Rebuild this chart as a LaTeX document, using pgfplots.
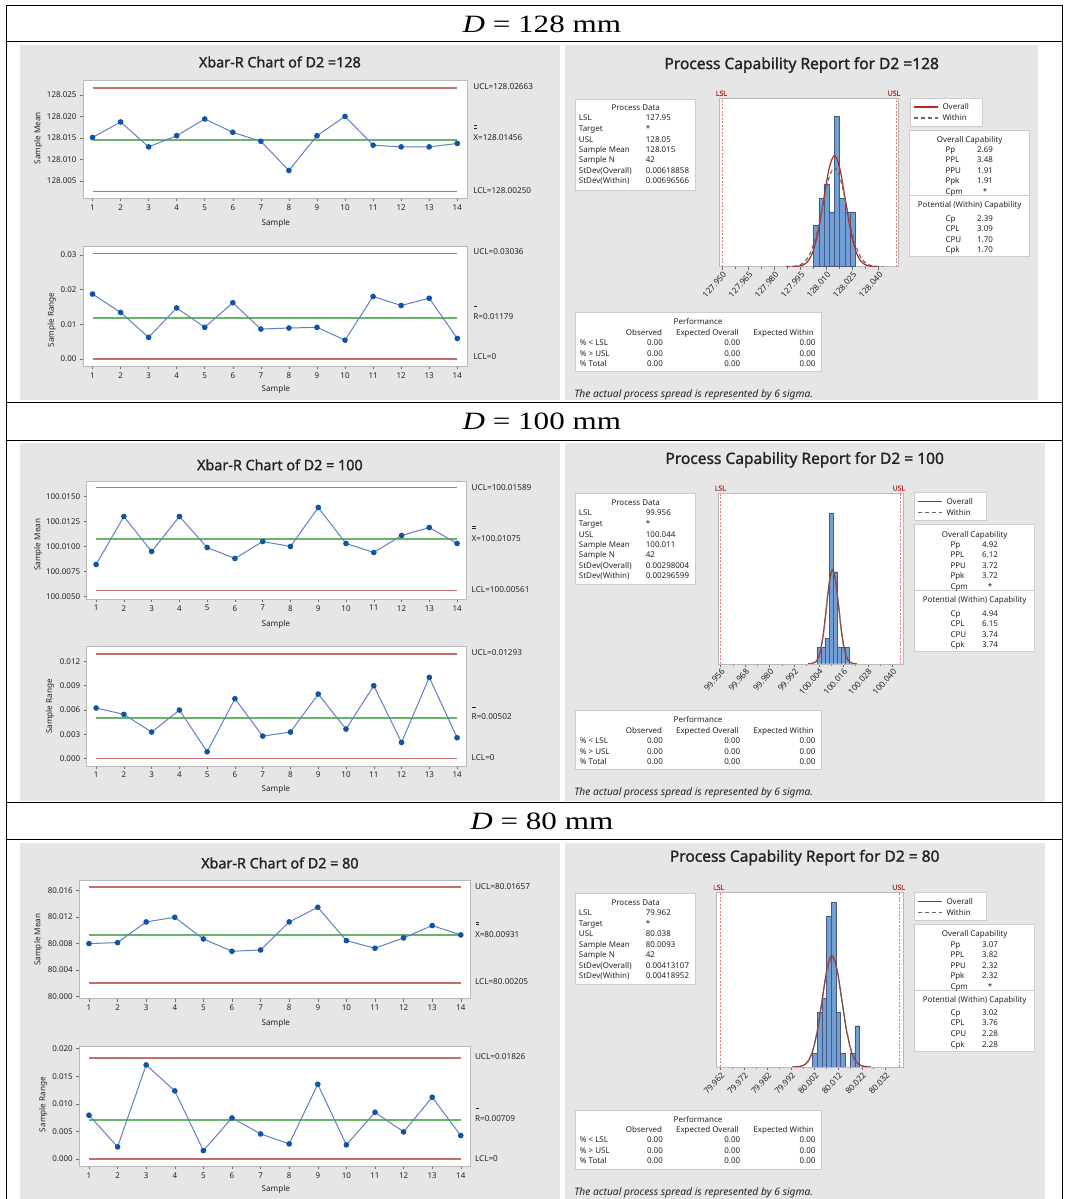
\documentclass[border=0pt]{standalone}
\usepackage{fontspec}
\usepackage{graphicx}
\setmainfont{Liberation Serif}
\setsansfont{Noto Sans}
\newfontfamily\ttlfont{Noto Sans}[FakeBold=1.3]
\renewcommand{\familydefault}{\sfdefault}
\usepackage{pgfplots}
\pgfplotsset{compat=1.18}

% shift big coordinates by a base value (l3fp keeps the precision)
\makeatletter
\def\shiftby#1#2{%
  \pgfutil@in@{Y}{#1}%
  \ifpgfutil@in@
    \pgfmathfloattosci{#1}%
  \else
    \def\pgfmathresult{#1}%
  \fi
  \edef\pgfmathresult{\fpeval{\pgfmathresult-(#2)}}}
\makeatother

\definecolor{panel}{RGB}{230,230,230}
\definecolor{framegray}{RGB}{185,185,185}
\definecolor{tickgray}{RGB}{110,110,110}
\definecolor{txt}{RGB}{35,35,35}
\definecolor{ptblue}{RGB}{16,84,164}
\definecolor{ptline}{RGB}{95,130,190}
\definecolor{uclred}{RGB}{192,112,112}
\definecolor{clgreen}{RGB}{105,180,105}
\definecolor{barblue}{RGB}{114,159,214}
\definecolor{baredge}{RGB}{70,90,125}
\definecolor{specred}{RGB}{232,120,120}
\definecolor{ovred}{RGB}{178,40,40}
\definecolor{wgray}{RGB}{105,105,105}
\definecolor{boxedge}{RGB}{205,205,205}
\definecolor{lslred}{RGB}{180,50,50}

\pgfplotsset{
  spc/.style={scale only axis, anchor=north west,
    xmin=0.66, xmax=14.34, xtick={1,...,14}, scaled ticks=false,
    axis background/.style={fill=white},
    axis line style={draw=framegray},
    tick style={draw=tickgray, line width=0.5bp},
    major tick length=3bp, tick align=outside, tick pos=left,
    tick label style={font=\sffamily\fontsize{8}{9}\selectfont, text=txt},
    /pgf/number format/assume math mode=true},
  ctl/.style={draw=uclred, line width=1.5bp, no markers},
  cen/.style={draw=clgreen, line width=1.5bp, no markers},
  pts/.style={draw=ptline, line width=1bp, mark=*, mark size=2.3bp,
    mark options={fill=ptblue, draw=ptblue}},
  hist/.style={scale only axis, anchor=north west, ymin=0, ytick=\empty,
    scaled ticks=false,
    axis background/.style={fill=white},
    axis line style={draw=framegray},
    tick style={draw=tickgray, line width=0.5bp},
    major tick length=3bp, minor tick length=2bp, minor x tick num=1,
    tick align=outside, tick pos=left,
    xticklabel style={rotate=48, anchor=north east, inner sep=1bp,
      font=\sffamily\fontsize{8.3}{9}\selectfont, text=txt}},
  bars/.style={ybar interval, fill=barblue, draw=baredge, line width=0.4bp},
  spec/.style={draw=specred, line width=0.9bp, dash pattern=on 2bp off 1.5bp, no markers},
  ovr/.style={draw=ovred, line width=1.2bp, smooth, no markers},
  wth/.style={draw=wgray, line width=1.2bp, dash pattern=on 4bp off 3bp, smooth, no markers},
}

\tikzset{
  bt/.style={anchor=mid west, inner sep=0pt, font=\sffamily\fontsize{8}{9}\selectfont, text=txt},
  box/.style={fill=white, draw=boxedge, line width=0.8bp},
  side/.style={anchor=mid west, inner sep=0pt, font=\sffamily\fontsize{8.2}{9}\selectfont, text=txt},
  axl/.style={inner sep=0pt, font=\sffamily\fontsize{8.2}{9}\selectfont, text=txt},
}

\newcommand{\pdbox}[6]{%
\begin{scope}[shift={(0,#1)}]
\draw[box] (576,51) rectangle (696,142);
\node[bt,anchor=mid] at (636,60.3) {Process Data};
\node[bt] at (579,70.3) {LSL}; \node[bt] at (646,70.3) {#2};
\node[bt] at (579,81) {Target}; \node[bt] at (646,81) {*};
\node[bt] at (579,91.7) {USL}; \node[bt] at (646,91.7) {#3};
\node[bt] at (579,102) {Sample Mean}; \node[bt] at (646,102) {#4};
\node[bt] at (579,112.3) {Sample N}; \node[bt] at (646,112.3) {42};
\node[bt] at (579,123) {StDev(Overall)}; \node[bt] at (646,123) {#5};
\node[bt] at (579,133.3) {StDev(Within)}; \node[bt] at (646,133.3) {#6};
\end{scope}}

\newcommand{\capbox}[8]{%
\begin{scope}[shift={(#2,#1)}]
\draw[box] (915,82) rectangle (1035,209);
\draw[boxedge, line width=0.8bp] (915,147.7) -- (1035,147.7);
\node[bt,anchor=mid] at (975,91.7) {Overall Capability};
\node[bt] at (950.7,102) {Pp}; \node[bt] at (982.3,102) {#3};
\node[bt] at (950.7,112.3) {PPL}; \node[bt] at (982.3,112.3) {#4};
\node[bt] at (950.7,123) {PPU}; \node[bt] at (982.3,123) {#5};
\node[bt] at (950.7,133.3) {Ppk}; \node[bt] at (982.3,133.3) {#5};
\node[bt] at (950.7,144) {Cpm}; \node[bt] at (988,144) {*};
\node[bt,anchor=mid] at (975,157.3) {Potential (Within) Capability};
\node[bt] at (950.7,170.7) {Cp}; \node[bt] at (982.3,170.7) {#6};
\node[bt] at (950.7,180.7) {CPL}; \node[bt] at (982.3,180.7) {#7};
\node[bt] at (950.7,191.7) {CPU}; \node[bt] at (982.3,191.7) {#8};
\node[bt] at (950.7,202) {Cpk}; \node[bt] at (982.3,202) {#8};
\end{scope}}

\newcommand{\legbox}[2]{%
\begin{scope}[shift={(#2,#1)}]
\draw[box] (915,50) rectangle (987,78);
\draw[ovred, line width=1.4bp] (918,59) -- (942,59);
\draw[wgray, line width=1.4bp, dash pattern=on 4bp off 3bp] (918,70) -- (942,70);
\node[bt] at (946.7,59) {Overall};
\node[bt] at (946.7,70) {Within};
\end{scope}}

\newcommand{\perfbox}[1]{%
\begin{scope}[shift={(0,#1)}]
\draw[box] (576,268) rectangle (822,327);
\node[bt,anchor=mid] at (698.3,277.3) {Performance};
\node[bt,anchor=mid] at (644.3,287.7) {Observed};
\node[bt,anchor=mid] at (707.7,287.7) {Expected Overall};
\node[bt,anchor=mid] at (784,287.7) {Expected Within};
\node[bt] at (580,297.7) {\% < LSL};
\node[bt] at (580,308.7) {\% > USL};
\node[bt] at (580,318.7) {\% Total};
\foreach \yy in {297.7,308.7,318.7}{
  \node[bt,anchor=mid east] at (663.3,\yy) {0.00};
  \node[bt,anchor=mid east] at (740.7,\yy) {0.00};
  \node[bt,anchor=mid east] at (816,\yy) {0.00};}
\node[bt,font=\sffamily\itshape\fontsize{10.3}{11}\selectfont] at (574.3,350.3) {The actual process spread is represented by 6 sigma.};
\end{scope}}

\begin{document}
\begin{tikzpicture}[font=\sffamily]
\begin{scope}[x=1bp,y=-1bp]
\useasboundingbox (0,0) rectangle (1065,1199);
\fill[white] (0,0) rectangle (1065,1199);
\fill[panel] (20,45) rectangle (560,400);
\fill[panel] (565,45) rectangle (1038,400);
\fill[panel] (20,443) rectangle (560,801);
\fill[panel] (565,443) rectangle (1045,801);
\fill[panel] (20,843) rectangle (560,1199);
\fill[panel] (565,843) rectangle (1045,1199);
\end{scope}

%%%%%%%%%% D = 128 %%%%%%%%%%
\begin{axis}[spc, at={(83bp,-80bp)}, width=384bp, height=118bp,
  y coord trafo/.code={\shiftby{#1}{128}},
  ymin=128.001, ymax=128.0285,
  ytick={128.005,128.010,128.015,128.020,128.025},
  yticklabels={128.005,128.010,128.015,128.020,128.025}]
\addplot[ctl] coordinates {(1,128.02663)(14,128.02663)};
\addplot[ctl] coordinates {(1,128.00250)(14,128.00250)};
\addplot[cen] coordinates {(1,128.01456)(14,128.01456)};
\addplot[pts] coordinates {(1,128.0151)(2,128.0187)(3,128.0129)(4,128.0155)(5,128.0194)(6,128.0163)(7,128.0142)(8,128.0074)(9,128.0155)(10,128.0200)(11,128.0133)(12,128.0129)(13,128.0129)(14,128.0137)};
\end{axis}

\begin{axis}[spc, at={(83bp,-246bp)}, width=384bp, height=120bp,
  ymin=-0.00202, ymax=0.0326,
  ytick={0,0.01,0.02,0.03}, yticklabels={0.00,0.01,0.02,0.03}]
\addplot[ctl] coordinates {(1,0.03036)(14,0.03036)};
\addplot[ctl] coordinates {(1,0)(14,0)};
\addplot[cen] coordinates {(1,0.01179)(14,0.01179)};
\addplot[pts] coordinates {(1,0.0187)(2,0.0134)(3,0.0062)(4,0.0147)(5,0.0091)(6,0.0162)(7,0.0086)(8,0.0089)(9,0.0091)(10,0.0054)(11,0.0180)(12,0.0154)(13,0.0175)(14,0.0059)};
\end{axis}

\begin{axis}[hist, at={(719bp,-98.3bp)}, width=180bp, height=168.4bp,
  x coord trafo/.code={\shiftby{#1}{128}},
  xmin=127.9479, xmax=128.0515, ymax=12.3,
  xtick={127.950,127.965,127.980,127.995,128.010,128.025,128.040},
  xticklabels={127.950,127.965,127.980,127.995,128.010,128.025,128.040}]
\addplot[bars] coordinates {(128.0025,3)(128.0055,5)(128.0085,6)(128.0115,4)(128.0145,11)(128.0175,5)(128.0205,4)(128.0235,4)(128.0265,0)};
\addplot[spec] coordinates {(127.95,0)(127.95,12.3)};
\addplot[spec] coordinates {(128.05,0)(128.05,12.3)};
\addplot[ovr] coordinates {(127.98981,0.0027)(127.99290,0.0178)(127.99599,0.0902)(127.99909,0.3569)(128.00218,1.0993)(128.00528,2.6370)(128.00837,4.9266)(128.01147,7.1680)(128.01456,8.1225)(128.01765,7.1680)(128.02075,4.9266)(128.02384,2.6370)(128.02694,1.0993)(128.03003,0.3569)(128.03313,0.0902)(128.03622,0.0178)(128.03931,0.0027)};
\addplot[wth] coordinates {(127.98670,0.0024)(127.99018,0.0158)(127.99366,0.0802)(127.99715,0.3171)(128.00063,0.9766)(128.00411,2.3428)(128.00759,4.3770)(128.01108,6.3685)(128.01456,7.2164)(128.01804,6.3685)(128.02153,4.3770)(128.02501,2.3428)(128.02849,0.9766)(128.03197,0.3171)(128.03546,0.0802)(128.03894,0.0158)(128.04242,0.0024)};
\end{axis}

%%%%%%%%%% D = 100 %%%%%%%%%%
\begin{axis}[spc, at={(86.7bp,-481bp)}, width=380bp, height=118bp,
  y coord trafo/.code={\shiftby{#1}{100}},
  ymin=100.00477, ymax=100.01657,
  ytick={100.0050,100.0075,100.0100,100.0125,100.0150},
  yticklabels={100.0050,100.0075,100.0100,100.0125,100.0150}]
\addplot[ctl] coordinates {(1,100.01589)(14,100.01589)};
\addplot[ctl] coordinates {(1,100.00561)(14,100.00561)};
\addplot[cen] coordinates {(1,100.01075)(14,100.01075)};
\addplot[pts] coordinates {(1,100.0082)(2,100.0130)(3,100.0095)(4,100.0130)(5,100.0099)(6,100.0088)(7,100.0105)(8,100.0100)(9,100.0139)(10,100.0103)(11,100.0094)(12,100.0111)(13,100.0119)(14,100.0103)};
\end{axis}

\begin{axis}[spc, at={(86.7bp,-646bp)}, width=380bp, height=120bp,
  ymin=-0.00086, ymax=0.01393,
  ytick={0,0.003,0.006,0.009,0.012}, yticklabels={0.000,0.003,0.006,0.009,0.012}]
\addplot[ctl] coordinates {(1,0.01293)(14,0.01293)};
\addplot[ctl] coordinates {(1,0)(14,0)};
\addplot[cen] coordinates {(1,0.00502)(14,0.00502)};
\addplot[pts] coordinates {(1,0.00625)(2,0.00547)(3,0.00329)(4,0.0060)(5,0.00086)(6,0.0074)(7,0.00279)(8,0.00329)(9,0.00797)(10,0.00366)(11,0.0090)(12,0.00201)(13,0.01003)(14,0.00259)};
\end{axis}

\begin{axis}[hist, at={(718.3bp,-493.3bp)}, width=185.7bp, height=170.7bp,
  x coord trafo/.code={\shiftby{#1}{100}},
  xmin=99.9547, xmax=100.0455, ymax=20.4,
  xtick={99.956,99.968,99.980,99.992,100.004,100.016,100.028,100.040},
  xticklabels={99.956,99.968,99.980,99.992,100.004,100.016,100.028,100.040}]
\addplot[bars] coordinates {(100.003,2)(100.005,2)(100.007,3)(100.009,18)(100.011,11)(100.013,2)(100.015,2)(100.017,2)(100.019,0)};
\addplot[spec] coordinates {(99.956,0)(99.956,20.4)};
\addplot[spec] coordinates {(100.044,0)(100.044,20.4)};
\addplot[ovr] coordinates {(99.99883,0.0038)(100.00032,0.0246)(100.00181,0.1249)(100.00330,0.4941)(100.00479,1.5219)(100.00628,3.6508)(100.00777,6.8205)(100.00926,9.9238)(100.01075,11.2451)(100.01224,9.9238)(100.01373,6.8205)(100.01522,3.6508)(100.01671,1.5219)(100.01820,0.4941)(100.01969,0.1249)(100.02118,0.0246)(100.02267,0.0038)};
\addplot[wth] coordinates {(99.99889,0.0038)(100.00037,0.0247)(100.00185,0.1255)(100.00334,0.4964)(100.00482,1.5291)(100.00630,3.6681)(100.00778,6.8529)(100.00927,9.9708)(100.01075,11.2984)(100.01223,9.9708)(100.01372,6.8529)(100.01520,3.6681)(100.01668,1.5291)(100.01817,0.4964)(100.01965,0.1255)(100.02113,0.0247)(100.02261,0.0038)};
\end{axis}

%%%%%%%%%% D = 80 %%%%%%%%%%
\begin{axis}[spc, at={(79.3bp,-881bp)}, width=391.4bp, height=118bp,
  y coord trafo/.code={\shiftby{#1}{80}},
  ymin=79.9997, ymax=80.0175,
  ytick={80.000,80.004,80.008,80.012,80.016},
  yticklabels={80.000,80.004,80.008,80.012,80.016}]
\addplot[ctl] coordinates {(1,80.01657)(14,80.01657)};
\addplot[ctl] coordinates {(1,80.00205)(14,80.00205)};
\addplot[cen] coordinates {(1,80.00931)(14,80.00931)};
\addplot[pts] coordinates {(1,80.0080)(2,80.00815)(3,80.01127)(4,80.01197)(5,80.0087)(6,80.00684)(7,80.00704)(8,80.01127)(9,80.01348)(10,80.00845)(11,80.0073)(12,80.00886)(13,80.01072)(14,80.00931)};
\end{axis}

\begin{axis}[spc, at={(79.3bp,-1046.7bp)}, width=391.4bp, height=120bp,
  ymin=-0.00133, ymax=0.02042,
  ytick={0,0.005,0.010,0.015,0.020}, yticklabels={0.000,0.005,0.010,0.015,0.020}]
\addplot[ctl] coordinates {(1,0.01826)(14,0.01826)};
\addplot[ctl] coordinates {(1,0)(14,0)};
\addplot[cen] coordinates {(1,0.00709)(14,0.00709)};
\addplot[pts] coordinates {(1,0.00792)(2,0.00218)(3,0.01704)(4,0.01233)(5,0.00151)(6,0.00743)(7,0.00453)(8,0.00272)(9,0.01353)(10,0.00254)(11,0.00846)(12,0.00489)(13,0.01118)(14,0.00423)};
\end{axis}

\begin{axis}[hist, at={(716.7bp,-892.3bp)}, width=186.6bp, height=175bp,
  x coord trafo/.code={\shiftby{#1}{80}},
  xmin=79.9603, xmax=80.0394, ymax=12.75,
  xtick={79.962,79.972,79.982,79.992,80.002,80.012,80.022,80.032},
  xticklabels={79.962,79.972,79.982,79.992,80.002,80.012,80.022,80.032}]
\addplot[bars] coordinates {(80.001,1)(80.003,4)(80.005,5)(80.007,11)(80.009,12)(80.011,4)(80.013,1)(80.015,0)(80.017,1)(80.019,3)(80.021,0)};
\addplot[spec] coordinates {(79.962,0)(79.962,12.75)};
\addplot[spec] coordinates {(80.038,0)(80.038,12.75)};
\addplot[ovr] coordinates {(79.99279,0.0027)(79.99485,0.0177)(79.99692,0.0901)(79.99898,0.3564)(80.00105,1.0978)(80.00311,2.6336)(80.00518,4.9201)(80.00724,7.1587)(80.00931,8.1119)(80.01138,7.1587)(80.01344,4.9201)(80.01551,2.6336)(80.01757,1.0978)(80.01964,0.3564)(80.02170,0.0901)(80.02377,0.0177)(80.02583,0.0027)};
\addplot[wth] coordinates {(79.99255,0.0027)(79.99465,0.0175)(79.99674,0.0889)(79.99884,0.3514)(80.00093,1.0825)(80.00303,2.5968)(80.00512,4.8515)(80.00722,7.0589)(80.00931,7.9988)(80.01140,7.0589)(80.01350,4.8515)(80.01559,2.5968)(80.01769,1.0825)(80.01978,0.3514)(80.02188,0.0889)(80.02397,0.0175)(80.02607,0.0027)};
\end{axis}

\begin{scope}[x=1bp,y=-1bp]
% table rules
\draw[line width=1bp] (7,5) -- (1063,5);
\foreach \yy in {42,403,441,803,840}{\draw[line width=1bp] (7,\yy) -- (1063,\yy);}
\draw[line width=1bp] (7,5) -- (7,1199);
\draw[line width=1bp] (1063,5) -- (1063,1199);
\foreach \yy/\dd in {24/128,422/100,822/80}{
  \node[font=\rmfamily\fontsize{25}{27}\selectfont] at (542,\yy) {\scalebox{1.25}[1]{\textit{D} = \dd\ mm}};}

% titles
\tikzset{ttl/.style={font=\ttlfont\fontsize{14.4}{16}\selectfont, text=txt},
         ttr/.style={font=\ttlfont\fontsize{15.6}{17}\selectfont, text=txt}}
\node[ttl] at (280,62) {Xbar-R Chart of D2 =128};
\node[ttl] at (280,465) {Xbar-R Chart of D2 = 100};
\node[ttl] at (280,863.3) {Xbar-R Chart of D2 = 80};
\node[ttr] at (802,65) {Process Capability Report for D2 =128};
\node[ttr] at (805,460) {Process Capability Report for D2 = 100};
\node[ttr] at (805,858) {Process Capability Report for D2 = 80};

% axis labels of the control charts
\foreach \xx/\yy in {38.3/138.3,38.3/545,38.3/940}{\node[axl,rotate=90] at (\xx,\yy) {Sample Mean};}
\foreach \xx/\yy in {51.7/320,50/706.7,43.3/1105}{\node[axl,rotate=90] at (\xx,\yy) {Sample Range};}
\foreach \yy in {223.3,390,624.3,790,1024,1190}{\node[axl] at (276,\yy) {Sample};}

% control limit labels
\node[side] at (473.3,86.7) {UCL=128.02663};
\draw[txt, line width=0.5bp] (474,125.6) -- (477.5,125.6) (474,127.8) -- (477.5,127.8);
\node[side] at (473.3,137.7) {X=128.01456};
\node[side] at (473.3,190.7) {LCL=128.00250};
\node[side] at (473.3,252) {UCL=0.03036};
\draw[txt, line width=0.6bp] (474,306.7) -- (477.5,306.7);
\node[side] at (473.3,316.7) {R=0.01179};
\node[side] at (473.3,357.3) {LCL=0};

\node[side] at (471.7,488.3) {UCL=100.01589};
\draw[txt, line width=0.5bp] (472.5,526.6) -- (476,526.6) (472.5,528.8) -- (476,528.8);
\node[side] at (471.7,539) {X=100.01075};
\node[side] at (471.7,590) {LCL=100.00561};
\node[side] at (471.7,653.3) {UCL=0.01293};
\draw[txt, line width=0.6bp] (472.5,707.7) -- (476,707.7);
\node[side] at (471.7,717.3) {R=0.00502};
\node[side] at (471.7,758.3) {LCL=0};

\node[side] at (475,887.3) {UCL=80.01657};
\draw[txt, line width=0.5bp] (475.8,922.2) -- (479.3,922.2) (475.8,924.4) -- (479.3,924.4);
\node[side] at (475,935) {X=80.00931};
\node[side] at (475,982.3) {LCL=80.00205};
\node[side] at (475,1057.7) {UCL=0.01826};
\draw[txt, line width=0.6bp] (475.8,1109) -- (479.3,1109);
\node[side] at (475,1119) {R=0.00709};
\node[side] at (475,1159) {LCL=0};

% LSL / USL labels
\foreach \xx/\yy/\tt in {721.7/93.3/LSL,894.3/93.3/USL,720.7/488.3/LSL,899.3/488.3/USL,719/887.7/LSL,899/887.7/USL}{
  \node[inner sep=0pt, font=\ttlfont\fontsize{7}{8}\selectfont, text=lslred] at (\xx,\yy) {\tt};}

% capability report boxes
\pdbox{48}{127.95}{128.05}{128.015}{0.00618858}{0.00696566}
\pdbox{443}{99.956}{100.044}{100.011}{0.00298004}{0.00296599}
\pdbox{843}{79.962}{80.038}{80.0093}{0.00413107}{0.00418952}
\legbox{48}{-4}
\legbox{443}{0}
\legbox{843}{0}
\capbox{48}{-5}{2.69}{3.48}{1.91}{2.39}{3.09}{1.70}
\capbox{443}{0}{4.92}{6.12}{3.72}{4.94}{6.15}{3.74}
\capbox{843}{0}{3.07}{3.82}{2.32}{3.02}{3.76}{2.28}
\perfbox{45}
\perfbox{443}
\perfbox{843}
\end{scope}
\end{tikzpicture}
\end{document}
